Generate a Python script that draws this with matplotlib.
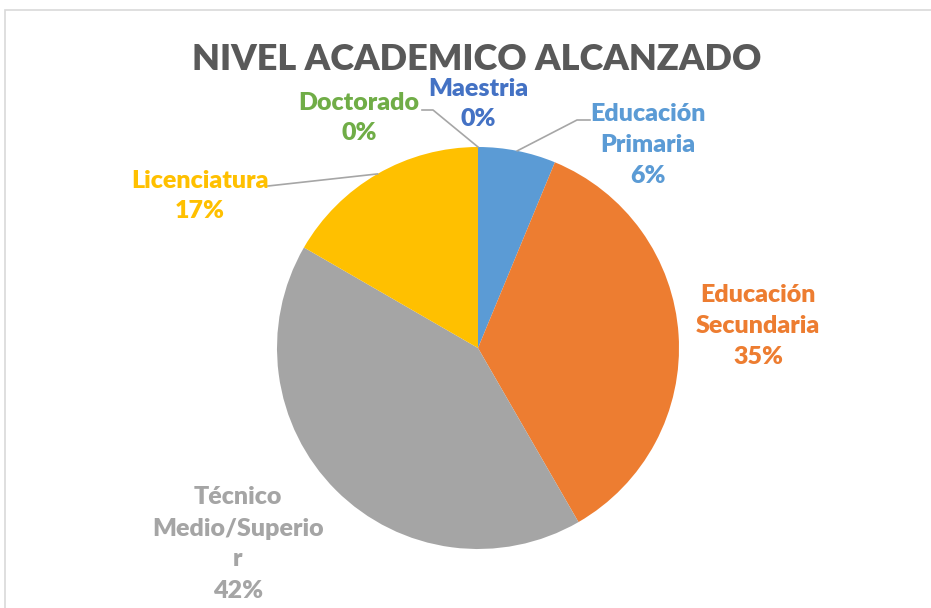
import numpy as np
import matplotlib
matplotlib.use("Agg")
import matplotlib.pyplot as plt
from matplotlib.patches import Rectangle

categories = ["Educación Primaria", "Educación Secundaria", "Técnico Medio/Superior",
              "Licenciatura", "Doctorado", "Maestria"]
display_labels = ["Educación\nPrimaria", "Educación\nSecundaria", "Técnico\nMedio/Superio\nr",
                  "Licenciatura", "Doctorado", "Maestria"]
values = [3, 17, 20, 8, 0, 0]
colors = ["#5B9BD5", "#ED7D31", "#A5A5A5", "#FFC000", "#70AD47", "#4472C4"]
title = "NIVEL ACADEMICO ALCANZADO"

W, H = 931, 608
fig = plt.figure(figsize=(W / 100, H / 100), dpi=100)
ax = fig.add_axes([0, 0, 1, 1])
ax.set_xlim(0, W)
ax.set_ylim(0, H)
ax.set_aspect("equal")
ax.axis("off")

def Y(py):
    return H - py

# frame
ax.add_patch(Rectangle((5, Y(H + 10)), W + 10, H, fill=False, ec="#D9D9D9", lw=1.2))

cx, cy, r = 478, Y(348), 201
ax.pie(values, colors=colors, startangle=90, counterclock=False,
       center=(cx, cy), radius=r, wedgeprops=dict(linewidth=0))
ax.set_xlim(0, W)
ax.set_ylim(0, H)

font = "Lato"
ax.text(477, Y(59), title, ha="center", va="center", fontsize=26,
        fontweight="heavy", color="#595959", family=font)

total = sum(values)
pcts = [round(100 * v / total) for v in values]
cum = np.cumsum([0] + values[:-1])
mid = [(c + v / 2) / total * 360 for c, v in zip(cum, values)]

def edge(i):
    a = np.deg2rad(90 - mid[i])
    return cx + r * np.cos(a), cy + r * np.sin(a)

# label centers (pixels) and elbows of leader lines
label_pos = [(648, 145), (758, 326), (238, 544), (200, 196), (359, 118), (478, 104)]
elbows = [[(577, 120), (590, 120)], None, None, [(268, 186)], [(433, 110), (422, 110)], None]

for i in range(len(values)):
    txt = f"{display_labels[i]}\n{pcts[i]}%"
    x, y = label_pos[i]
    ax.text(x, Y(y), txt, ha="center", va="center", fontsize=18, fontweight="heavy",
            color=colors[i], family=font, linespacing=1.5)
    if elbows[i]:
        ex, ey = edge(i)
        xs = [ex] + [p[0] for p in elbows[i]]
        ys = [ey] + [Y(p[1]) for p in elbows[i]]
        ax.plot(xs, ys, color="#A6A6A6", lw=1.2)

fig.savefig("out.png", dpi=100)
